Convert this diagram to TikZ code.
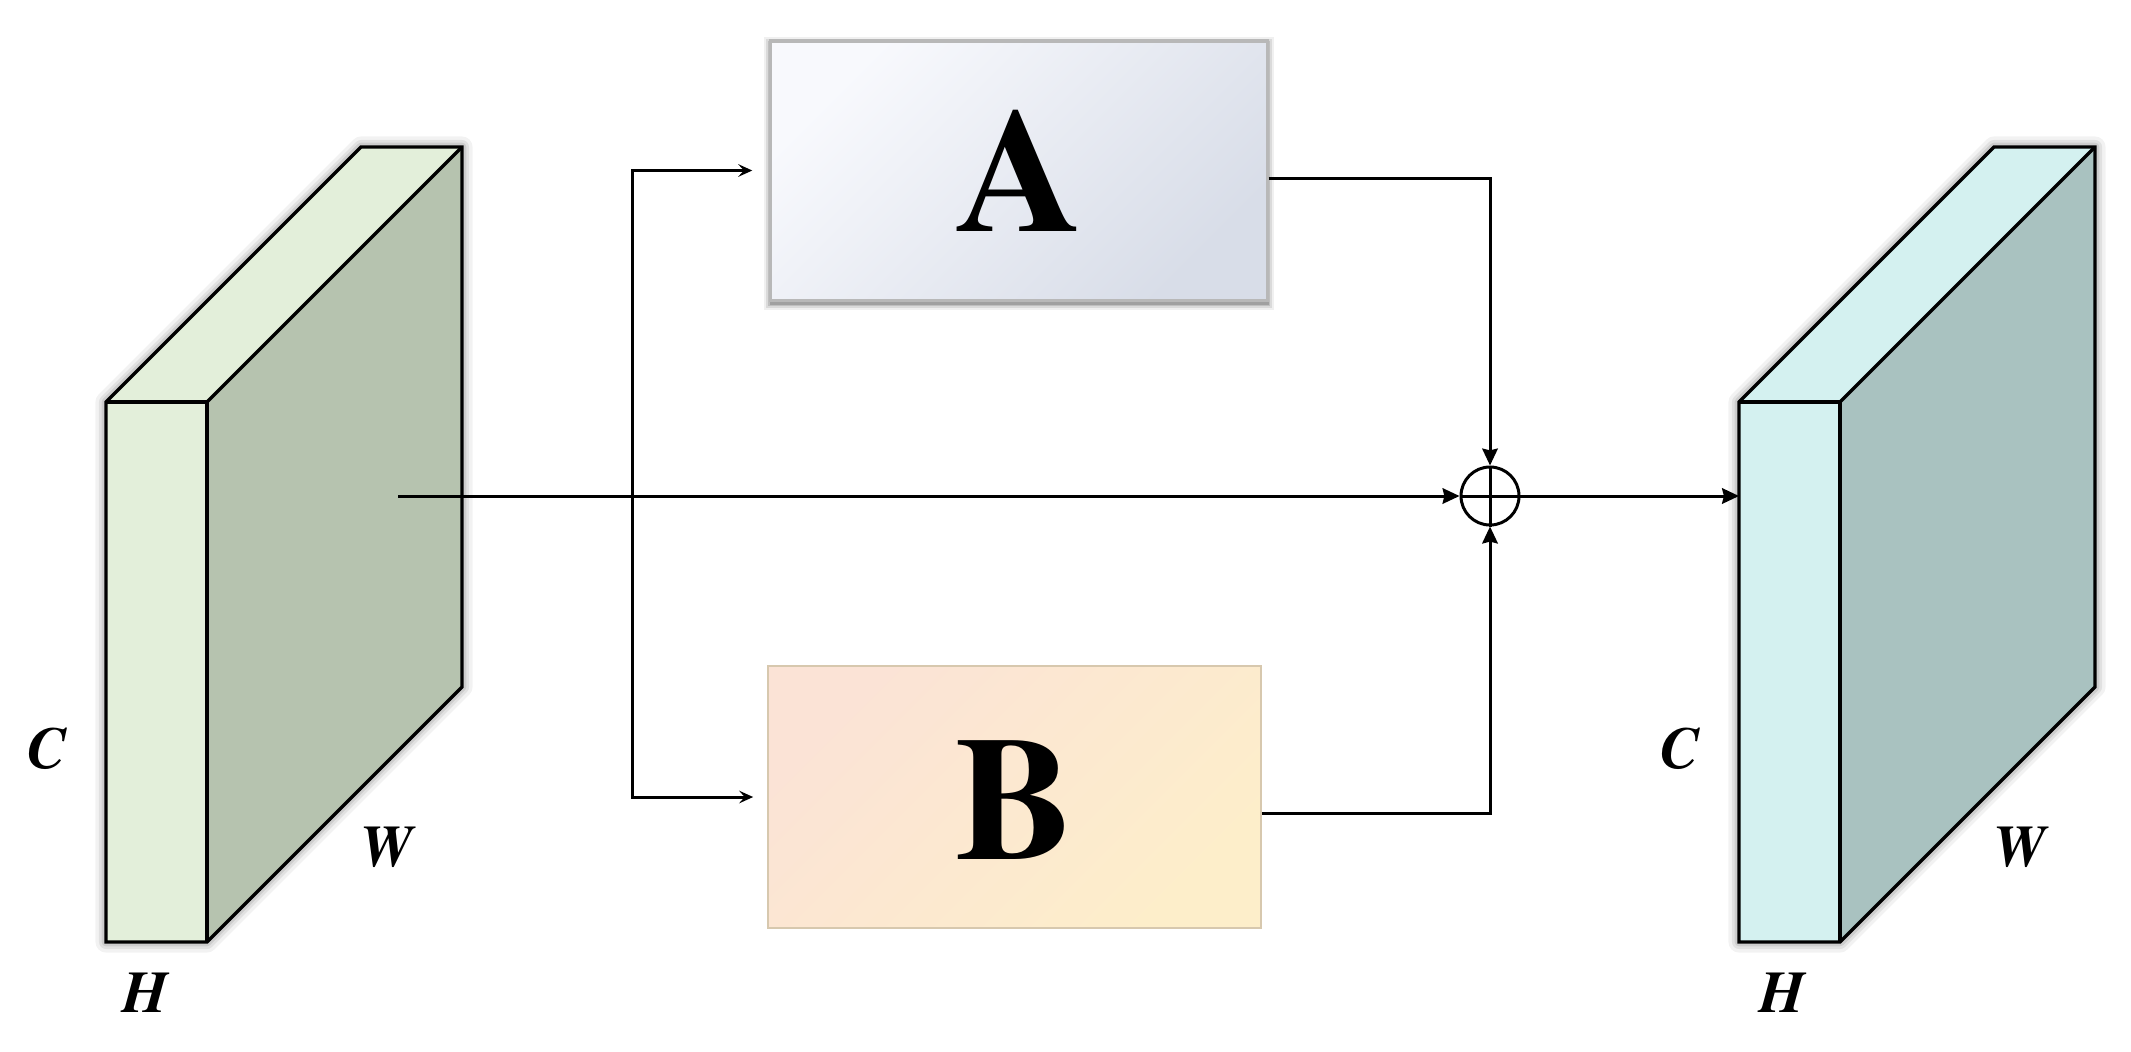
\documentclass[tikz,border=0pt]{standalone}
\usepackage{fontspec}
\newfontfamily\tnr{TeX Gyre Termes}
\usetikzlibrary{arrows.meta}
\definecolor{lgfront}{HTML}{E3EFDA}
\definecolor{lgside}{HTML}{B6C3AF}
\definecolor{lcfront}{HTML}{D4F1F0}
\definecolor{lcside}{HTML}{A9C2C0}
\definecolor{aTL}{HTML}{F8F9FD}
\definecolor{aBR}{HTML}{D8DDE8}
\definecolor{bTL}{HTML}{FBE3D6}
\definecolor{bBR}{HTML}{FDEECA}
\tikzset{
  edge/.style={draw=black, line width=0.95pt, line join=miter},
  halo/.style={draw=black, line join=round},
  conn/.style={draw=black, line width=0.85pt},
  arr/.style={conn, -{Stealth[length=4.8pt,width=4.4pt,inset=0.5pt]}},
  brarr/.style={conn, -{Stealth[length=4pt,width=3.6pt,inset=1.6pt]}},
  dimlbl/.style={font=\tnr\fontsize{16.8}{18}\selectfont\bfseries\itshape, inner sep=0pt},
  biglbl/.style={font=\tnr\fontsize{50}{52}\selectfont\bfseries, inner sep=0pt},
}
\begin{document}
\begin{tikzpicture}[x=0.01cm,y=-0.01cm]
\useasboundingbox (0,0) rectangle (2131,1051);
% soft halos behind cuboids
\foreach \w/\o in {6pt/0.05,4pt/0.07,2.5pt/0.09}{
  \draw[halo, line width=\w, opacity=\o] (106,402) -- (361,147) -- (462,147) -- (462,687) -- (207,942) -- (106,942) -- cycle;
  \draw[halo, line width=\w, opacity=\o] (1739,402) -- (1994,147) -- (2095,147) -- (2095,687) -- (1840,942) -- (1739,942) -- cycle;
}
% left cuboid
\fill[lgfront] (106,402) -- (361,147) -- (462,147) -- (207,402) -- cycle;
\fill[lgside] (207,402) -- (462,147) -- (462,687) -- (207,942) -- cycle;
\fill[lgfront] (106,402) rectangle (207,942);
\draw[edge] (106,402) -- (361,147) -- (462,147) -- (462,687) -- (207,942) -- (106,942) -- cycle;
\draw[edge] (106,402) -- (207,402) -- (207,942);
\draw[edge] (207,402) -- (462,147);
\node[dimlbl] (lC) at (47,749) {C};
\node[dimlbl] (lH) at (145,993) {H};
\node[dimlbl] (lW) at (387,847) {W};
\coordinate (in) at (398,496);
% right cuboid
\fill[lcfront] (1739,402) -- (1994,147) -- (2095,147) -- (1840,402) -- cycle;
\fill[lcside] (1840,402) -- (2095,147) -- (2095,687) -- (1840,942) -- cycle;
\fill[lcfront] (1739,402) rectangle (1840,942);
\draw[edge] (1739,402) -- (1994,147) -- (2095,147) -- (2095,687) -- (1840,942) -- (1739,942) -- cycle;
\draw[edge] (1739,402) -- (1840,402) -- (1840,942);
\draw[edge] (1840,402) -- (2095,147);
\node[dimlbl] (rC) at (1680,749) {C};
\node[dimlbl] (rH) at (1782,993) {H};
\node[dimlbl] (rW) at (2020,847) {W};
\coordinate (out) at (1739,496);
% box A soft shadow
\foreach \d/\o in {7/0.06,5/0.09,3/0.12,1.5/0.16}{
  \fill[black, opacity=\o] (771-\d,41-\d+3) rectangle (1267+\d,300+\d+3);
}
% boxes
\node[draw=black!28, line width=0.9pt, top color=aTL, bottom color=aBR, shading angle=45,
      minimum width=4.96cm, minimum height=2.59cm, inner sep=0pt] (A) at (1019,170.5) {};
\node[biglbl] (Alab) at (1019,171) {A};
\node[draw=bBR!80!bTL!85!black, line width=0.4pt, top color=bTL, bottom color=bBR, shading angle=45,
      minimum width=4.93cm, minimum height=2.62cm, inner sep=0pt] (B) at (1014.5,797) {};
\node[biglbl] (Blab) at (1014.5,800) {B};
% sum
\node[circle, draw=black, line width=0.85pt, minimum size=0.58cm, inner sep=0pt] (op) at (1490,496) {};
\draw[conn] (op.north) -- (op.south);
\draw[conn] (op.west) -- (op.east);
% connectors
\coordinate (junc) at (632,496);
\draw[arr] (in) -- (op.west);
\draw[brarr, shorten >=0.17cm] (junc) |- (A.west);
\draw[brarr, shorten >=0.14cm] (junc) |- (B.west);
\draw[arr] ([yshift=-0.08cm]A.east) -| (op.north);
\draw[arr] ([yshift=-0.16cm]B.east) -| (op.south);
\draw[arr] (op.east) -- (out);
\end{tikzpicture}
\end{document}
